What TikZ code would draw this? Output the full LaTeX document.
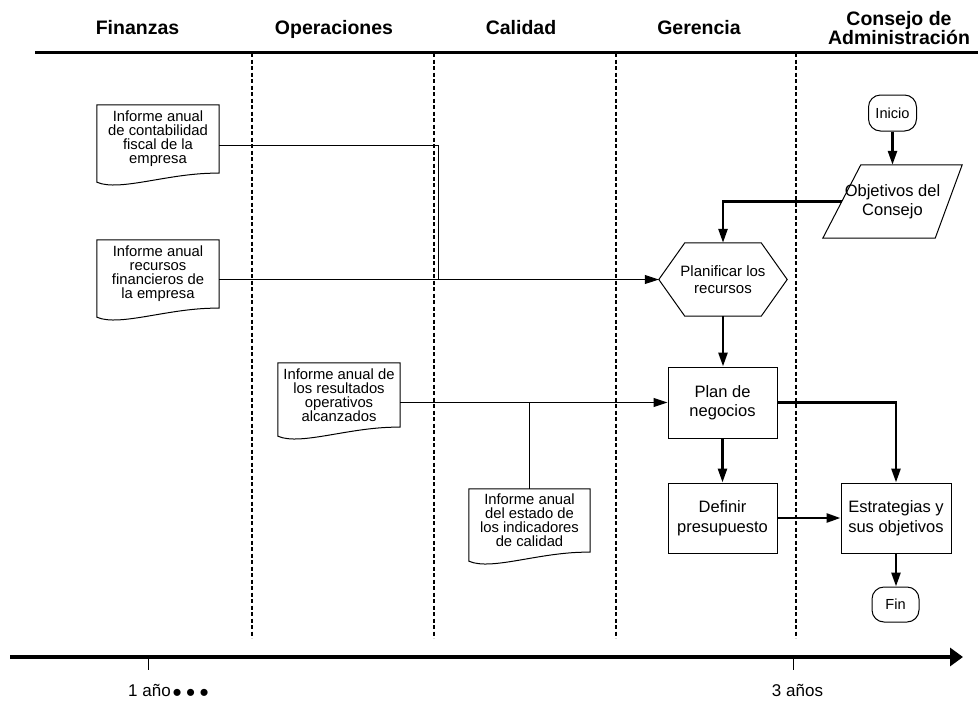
\documentclass[tikz,border=0pt]{standalone}
\usepackage{fontspec}
\setmainfont{Liberation Sans}
\usetikzlibrary{arrows.meta,calc}

% type sizes used in the chart
\newcommand\doctext{\fontsize{14.8}{14}\selectfont}
\newcommand\proctext{\fontsize{16.5}{19.5}\selectfont}
\newcommand\prepdtext{\fontsize{15}{17.5}\selectfont}
\newcommand\termtext{\fontsize{14.6}{17}\selectfont}
\newcommand\headtext{\fontsize{19.5}{19}\selectfont\bfseries}
\newcommand\axistext{\fontsize{17}{20}\selectfont}
\newcommand\bigdots{{\fontsize{26}{20}\selectfont\raisebox{-5pt}{•\hspace{4.4pt}•\hspace{4.4pt}•}}}

% outline of a document symbol: rectangle with a wavy lower edge
\newcommand\docoutline[1]{%
  \draw[shapeline] (#1.north west) -- (#1.north east) -- (#1.south east)
    .. controls ($(#1.south east)+(-49,-1)$) and ($(#1.south west)+(23,19)$)
    .. ($(#1.south west)+(0,9)$) -- cycle;}

\begin{document}
\begin{tikzpicture}[x=1pt,y=-1pt,
  shapeline/.style={line width=1pt},
  lane/.style={line width=1.6pt, dash pattern=on 4pt off 2.5pt},
  flow/.style={line width=2.6pt, -{Triangle[length=14pt,width=9pt]}},
  feed/.style={line width=1pt},
  feedarrow/.style={feed, -{Triangle[length=14pt,width=9pt]}},
  proc/.style={draw, line width=1pt, minimum width=109pt, minimum height=70pt,
    inner sep=0pt, align=center, font=\proctext},
  term/.style={draw, line width=1pt, rounded corners=12pt, minimum width=48pt,
    minimum height=36pt, inner sep=0pt, font=\termtext},
  doc/.style={minimum width=122pt, inner sep=0pt, align=center, font=\doctext},
  bare/.style={inner sep=0pt, align=center},
  lanehead/.style={inner sep=0pt, align=center, font=\headtext},
  axislabel/.style={inner sep=0pt, font=\axistext}]

\useasboundingbox (0,0) rectangle (978,702);

% lane headings
\node[lanehead, anchor=base] (hfin) at (137.5,34) {Finanzas};
\node[lanehead, anchor=base] (hope) at (334,34) {Operaciones};
\node[lanehead, anchor=base] (hcal) at (521,34) {Calidad};
\node[lanehead, anchor=base] (hger) at (699,34) {Gerencia};
\node[lanehead] (hcon) at (899,28.5) {Consejo de\\Administración};

% heading rule and lane separators
\draw[line width=3pt] (35,52) -- (978,52);
\foreach \lx in {252,434,616,796}
  \draw[lane] (\lx,53) -- (\lx,638);

% time axis
\draw[line width=4pt, -{Triangle[length=13pt,width=18pt]}] (10,657) -- (963,657);
\draw[line width=1pt] (148,657) -- (148,670);
\draw[line width=1pt] (793,657) -- (793,670);
\node[axislabel, anchor=base west] (y1) at (128,696) {1 año\hspace{2pt}\bigdots};
\node[axislabel, anchor=base] (y3) at (797.5,696) {3 años};

% documents
\node[doc, minimum height=68pt] (d1) at (158,139)
  {Informe anual\\de contabilidad\\fiscal de la\\empresa};
\node[doc, minimum height=68pt] (d2) at (158,274)
  {Informe anual\\recursos\\financieros de\\la empresa};
\node[doc, minimum height=64pt] (d3) at (339,395)
  {Informe anual de\\los resultados\\operativos\\alcanzados};
\node[doc, minimum height=63pt, minimum width=121pt] (d4) at (529.5,520.5)
  {Informe anual\\del estado de\\los indicadores\\de calidad};
\docoutline{d1}
\docoutline{d2}
\docoutline{d3}
\docoutline{d4}

% start and end
\node[term] (inicio) at (892.5,113) {Inicio};
\node[term, minimum width=47pt, minimum height=35pt] (fin) at (895.5,604.5) {Fin};

% board objectives (input symbol)
\node[bare, font=\proctext, minimum width=139pt, minimum height=73pt] (obj)
  at (892.5,201.5) {Objetivos del\\Consejo};
\draw[shapeline] ($(obj.north west)+(38,0)$) -- (obj.north east)
  -- ($(obj.south east)+(-27,0)$) -- (obj.south west) -- cycle;

% resource planning (preparation symbol)
\node[bare, font=\prepdtext, minimum width=128pt, minimum height=73pt] (hx)
  at (723,279.5) {Planificar los\\recursos};
\draw[shapeline] (hx.west) -- ($(hx.north west)+(26,0)$)
  -- ($(hx.north east)+(-26,0)$) -- (hx.east)
  -- ($(hx.south east)+(-26,0)$) -- ($(hx.south west)+(26,0)$) -- cycle;

% processes
\node[proc, minimum height=71pt] (plan) at (722.5,402.5) {Plan de\\negocios};
\node[proc] (def) at (722.5,518) {Definir\\presupuesto};
\node[proc, minimum width=110pt] (estr) at (896,518) {Estrategias y\\sus objetivos};

% main flow
\draw[flow] (inicio.south) -- (obj.north);
\draw[flow] ($(obj.west)+(19,0)$) -| (hx.north);
\draw[flow] (hx.south) -- (hx.south |- plan.north);
\draw[flow] (plan.south) -- (def.north);
\draw[flow] (plan.east) -| (estr.north);
\draw[flow] (def.east) -- (estr.west);
\draw[flow] (estr.south) -- (estr.south |- fin.north);

% document inputs
\coordinate (merge) at (438,279.5);
\draw[feed] ($(d1.east)+(0,6)$) -| (merge);
\draw[feedarrow] (d2.east |- hx.west) -- (hx.west);
\draw[feedarrow] (d3.east |- plan.west) -- (plan.west);
\draw[feed] (d4.north) -- (d4.north |- plan.west);

\end{tikzpicture}
\end{document}
